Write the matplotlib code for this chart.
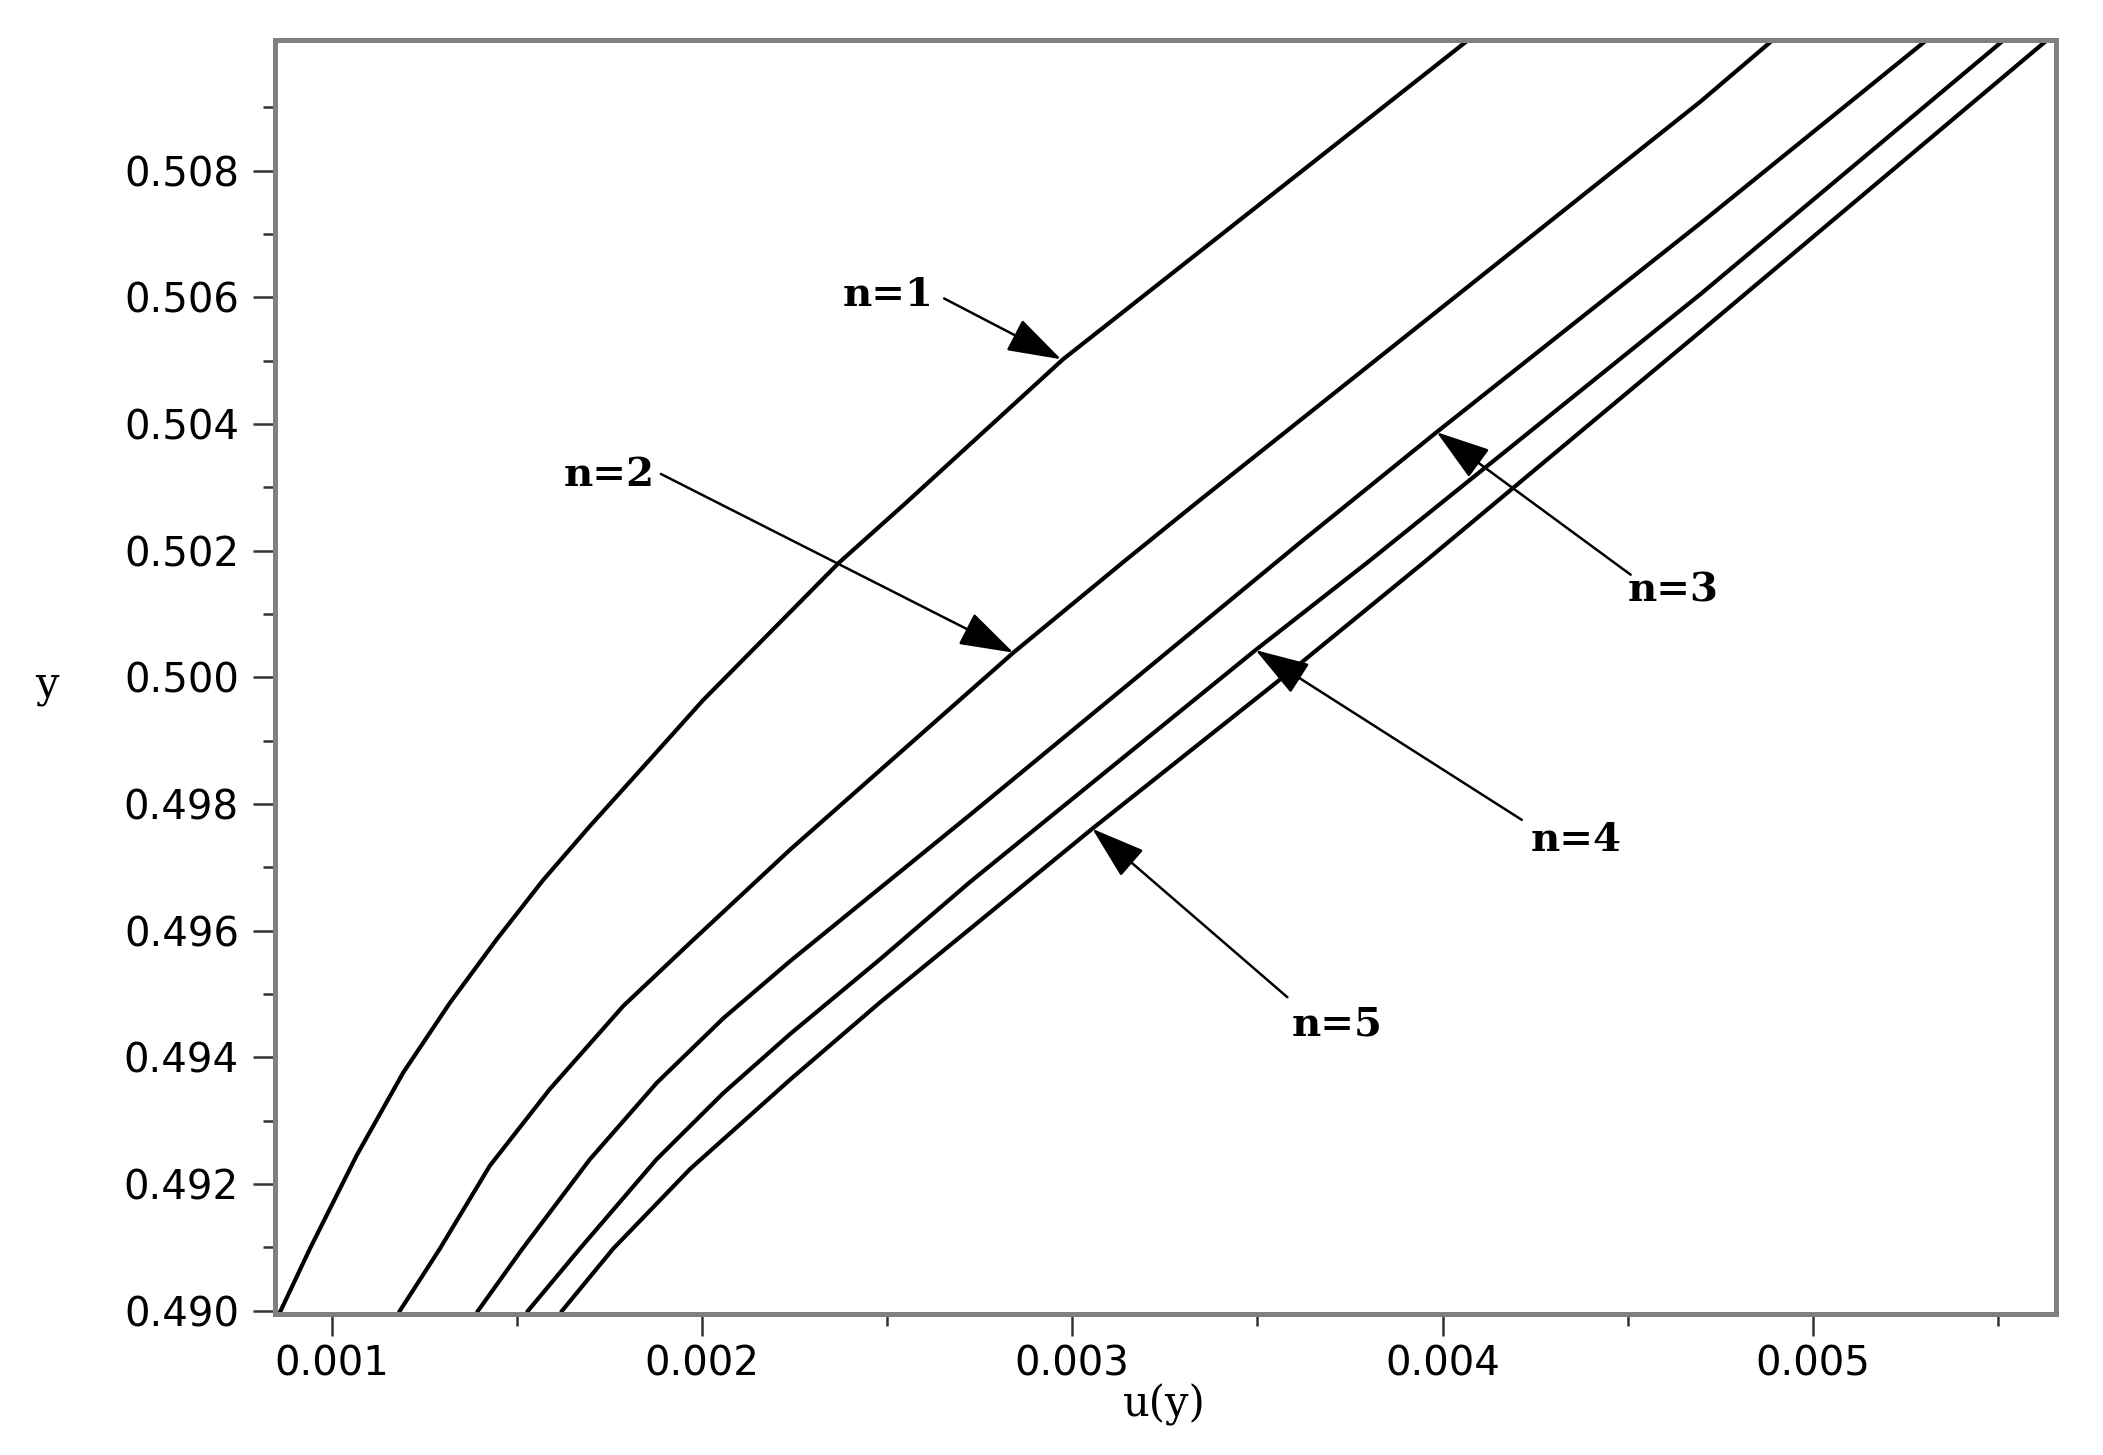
import numpy as np
import matplotlib
matplotlib.use("Agg")
import matplotlib.pyplot as plt
from matplotlib.ticker import FixedLocator, FormatStrFormatter

# curves u(y) for n = 1..5
y_n1 = [0.4900, 0.49098, 0.49245, 0.49376, 0.49486, 0.49586, 0.49680, 0.49765, 0.49876,
        0.49964, 0.50181, 0.50275, 0.50502, 0.5101]
u_n1 = [0.000862, 0.000941, 0.001067, 0.001193, 0.001319, 0.001445, 0.001571, 0.001697, 0.001868,
        0.002003, 0.002370, 0.002550, 0.002975, 0.004078]

y_n2 = [0.4900, 0.49098, 0.49229, 0.49350, 0.49481, 0.49581, 0.49728, 0.50039,
        0.50184, 0.50279, 0.50909, 0.5101]
u_n2 = [0.001184, 0.001292, 0.001427, 0.001589, 0.001787, 0.001968, 0.002238, 0.002841,
        0.003142, 0.003343, 0.004697, 0.004900]

y_n3 = [0.4900, 0.49098, 0.49239, 0.49360, 0.49462, 0.49552, 0.49783, 0.50213, 0.50387, 0.50717, 0.5101]
u_n3 = [0.001395, 0.001515, 0.001697, 0.001878, 0.002058, 0.002238, 0.002724, 0.003616, 0.003984, 0.004697, 0.005316]

y_n4 = [0.4900, 0.49098, 0.49239, 0.49344, 0.49437, 0.49555, 0.49677, 0.50043, 0.50184, 0.50605, 0.5101]
u_n4 = [0.001530, 0.001670, 0.001877, 0.002058, 0.002238, 0.002481, 0.002724, 0.003495, 0.003803, 0.004697, 0.005524]

y_n5 = [0.4900, 0.49098, 0.49224, 0.49365, 0.49487, 0.49603, 0.49761, 0.50022, 0.50184, 0.50546, 0.5101]
u_n5 = [0.001622, 0.001760, 0.001968, 0.002238, 0.002481, 0.002724, 0.003054, 0.003616, 0.003955, 0.004697, 0.005641]

labels = ['n=1', 'n=2', 'n=3', 'n=4', 'n=5']
# label centre, arrow tail, arrow tip (data coords)
label_pos = [(0.002503, 0.50603), (0.001749, 0.50320), (0.004622, 0.50137), (0.004362, 0.49743), (0.003716, 0.49452)]
arrow_tail = [(0.002654, 0.50598), (0.001889, 0.50321), (0.004508, 0.50162), (0.004214, 0.49775), (0.003581, 0.49495)]
arrow_tip = [(0.002970, 0.50502), (0.002841, 0.50039), (0.003984, 0.50387), (0.003495, 0.50043), (0.003054, 0.49761)]

x_major = [0.001, 0.002, 0.003, 0.004, 0.005]
x_minor = [0.0015, 0.0025, 0.0035, 0.0045, 0.0055]
y_major = [0.490, 0.492, 0.494, 0.496, 0.498, 0.500, 0.502, 0.504, 0.506, 0.508]
y_minor = [0.491, 0.493, 0.495, 0.497, 0.499, 0.501, 0.503, 0.505, 0.507, 0.509]

fig = plt.figure(figsize=(21.03, 14.55), dpi=100)
ax = fig.add_axes([0.1308, 0.0969, 0.8469, 0.8756])

for u, y in [(u_n1, y_n1), (u_n2, y_n2), (u_n3, y_n3), (u_n4, y_n4), (u_n5, y_n5)]:
    ax.plot(u, y, color='black', lw=3.0, solid_joinstyle='round')

for lab, pos, tail, tip in zip(labels, label_pos, arrow_tail, arrow_tip):
    ax.text(pos[0], pos[1], lab, ha='center', va='center', fontsize=29,
            family='DejaVu Serif', fontweight='bold')
    ax.annotate('', xy=tip, xytext=tail,
                arrowprops=dict(arrowstyle='-|>,head_length=1.7,head_width=0.55',
                                color='black', lw=1.8, shrinkA=0, shrinkB=0,
                                mutation_scale=20))

ax.set_xlim(0.000847, 0.005657)
ax.set_ylim(0.48995, 0.51006)

ax.xaxis.set_major_locator(FixedLocator(x_major))
ax.xaxis.set_minor_locator(FixedLocator(x_minor))
ax.yaxis.set_major_locator(FixedLocator(y_major))
ax.yaxis.set_minor_locator(FixedLocator(y_minor))
ax.xaxis.set_major_formatter(FormatStrFormatter('%.3f'))
ax.yaxis.set_major_formatter(FormatStrFormatter('%.3f'))

ax.tick_params(which='major', direction='out', length=16, width=1.8, color='#333333',
               labelsize=29, labelcolor='black')
ax.tick_params(which='minor', direction='out', length=8.5, width=1.8, color='#333333')
ax.tick_params(axis='x', which='major', pad=6)
ax.tick_params(axis='y', which='major', pad=10)
for lbl in ax.get_xticklabels() + ax.get_yticklabels():
    lbl.set_family('DejaVu Sans')

for sp in ax.spines.values():
    sp.set_color('#808080')
    sp.set_linewidth(3.6)

fig.text(0.5535, 0.0344, 'u(y)', ha='center', va='center', fontsize=30, family='DejaVu Serif')
fig.text(0.0223, 0.529, 'y', ha='center', va='center', fontsize=30, family='DejaVu Serif')

fig.savefig('out.png', dpi=100, facecolor='white')
